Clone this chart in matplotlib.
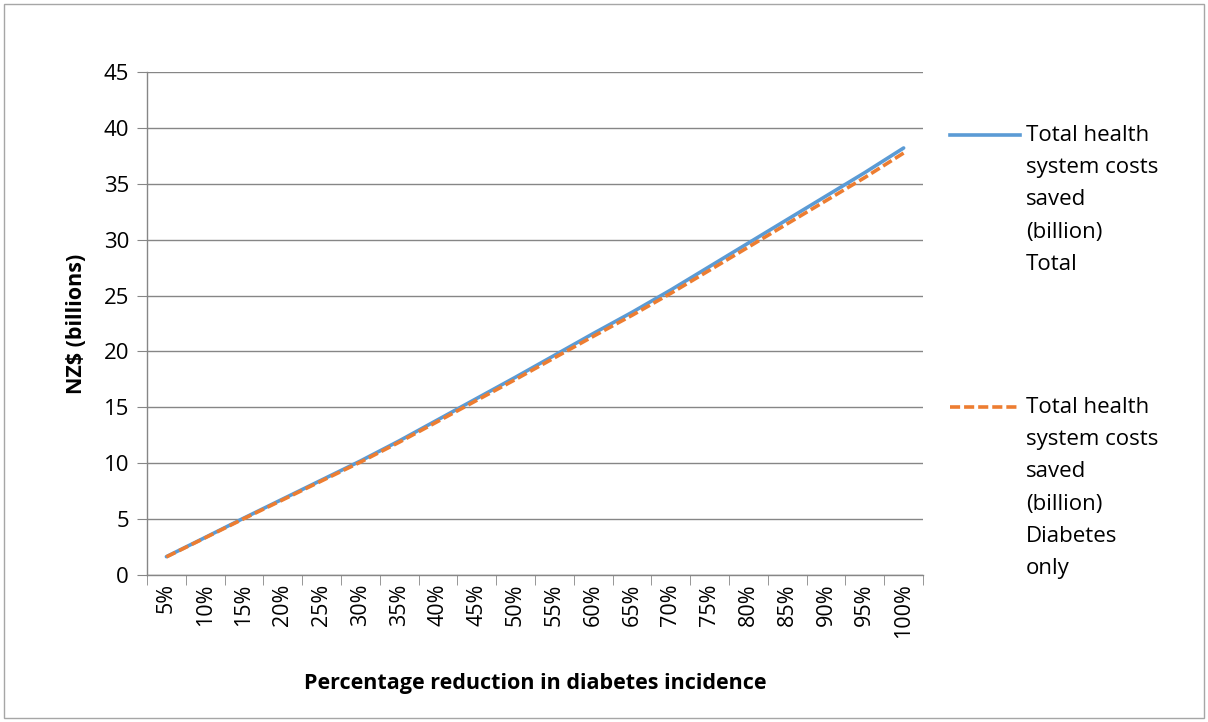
import matplotlib.pyplot as plt
from matplotlib.lines import Line2D
from matplotlib.patches import Rectangle

reductions = ["5%", "10%", "15%", "20%", "25%", "30%", "35%", "40%", "45%", "50%",
              "55%", "60%", "65%", "70%", "75%", "80%", "85%", "90%", "95%", "100%"]
saved_total = [1.64, 3.36, 5.1, 6.8, 8.5, 10.2, 12.0, 13.9, 15.8, 17.7,
               19.65, 21.6, 23.5, 25.5, 27.6, 29.7, 31.8, 33.9, 36.0, 38.2]
saved_diabetes = [1.62, 3.33, 5.05, 6.73, 8.42, 10.1, 11.88, 13.75, 15.63, 17.5,
                  19.43, 21.35, 23.23, 25.2, 27.27, 29.34, 31.42, 33.49, 35.56, 37.75]
legend_total = "Total health\nsystem costs\nsaved\n(billion)\nTotal"
legend_diabetes = "Total health\nsystem costs\nsaved\n(billion)\nDiabetes\nonly"

BLUE = "#5B9BD5"
ORANGE = "#ED7D31"
GRID = "#868686"
DASH = (0, (2.8, 1.1))
LW = 2.6

plt.rcParams["font.family"] = ["Open Sans", "DejaVu Sans"]

fig = plt.figure(figsize=(12.08, 7.22), dpi=100)
ax = fig.add_axes([0.1217, 0.2036, 0.6424, 0.6967])

x = list(range(len(reductions)))
ax.plot(x, saved_total, color=BLUE, lw=LW, solid_capstyle="round")
ax.plot(x, saved_diabetes, color=ORANGE, lw=LW, ls=DASH)

ax.set_xlim(-0.5, len(reductions) - 0.5)
ax.set_ylim(0, 45)
ax.set_yticks(range(0, 46, 5))
ax.set_xticks(x)
ax.set_xticklabels(reductions, rotation=90, fontsize=15.5)
ax.set_xticks([i - 0.5 for i in range(len(reductions) + 1)], minor=True)
ax.tick_params(axis="x", which="major", length=0, pad=6)
ax.tick_params(axis="x", which="minor", length=7, color=GRID, direction="out")
ax.tick_params(axis="y", length=7, color=GRID, labelsize=16, pad=6)

ax.grid(axis="y", color=GRID, lw=1)
ax.set_axisbelow(True)
for side in ("top", "right"):
    ax.spines[side].set_visible(False)
for side in ("left", "bottom"):
    ax.spines[side].set_color(GRID)
    ax.spines[side].set_linewidth(1)

ax.set_ylabel("NZ$ (billions)", fontsize=15.5, fontweight="bold", labelpad=12)
ax.set_xlabel("Percentage reduction in diabetes incidence", fontsize=15.5,
              fontweight="bold", labelpad=25)

# legend drawn at the right, handle level with the first text line
W, H = 1208, 722
for y_px, color, style, label in [(135, BLUE, "-", legend_total),
                                  (407, ORANGE, DASH, legend_diabetes)]:
    fy = 1 - y_px / H
    fig.add_artist(Line2D([950 / W, 1020 / W], [fy, fy], color=color, lw=LW, ls=style,
                          transform=fig.transFigure))
    fig.text(1026 / W, fy + 10 / H, label, fontsize=16, va="top", ha="left",
             linespacing=1.7)

fig.add_artist(Rectangle((4 / W, 4 / H), 1 - 8 / W, 1 - 8 / H, fill=False,
                         edgecolor="#A6A6A6", lw=1, transform=fig.transFigure))

fig.savefig("out.png", dpi=100)
